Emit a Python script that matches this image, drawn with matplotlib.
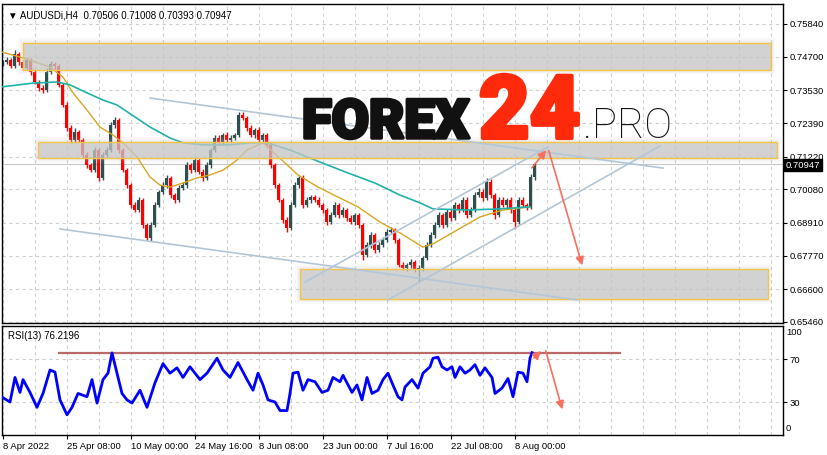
import numpy as np
import matplotlib
matplotlib.use("Agg")
import matplotlib.pyplot as plt
import matplotlib.patheffects as pe
from matplotlib.patches import Rectangle

# AUDUSD H4, one candle for every 4 bars
closes = [0.7452, 0.7459, 0.7438, 0.7479, 0.7452, 0.7431, 0.7459, 0.7417, 0.7382, 0.7361,
          0.7354, 0.7417, 0.7445, 0.7438, 0.7372, 0.7302, 0.7222, 0.7180, 0.7208, 0.7180,
          0.7128, 0.7093, 0.7075, 0.7145, 0.7048, 0.7128, 0.7145, 0.7232, 0.7250, 0.7145,
          0.7075, 0.7023, 0.6954, 0.6936, 0.6971, 0.6884, 0.6839, 0.6884, 0.6954, 0.6999,
          0.7023, 0.7048, 0.6988, 0.6971, 0.7013, 0.7023, 0.7093, 0.7075, 0.7110, 0.7069,
          0.7048, 0.7093, 0.7145, 0.7187, 0.7173, 0.7197, 0.7180, 0.7187, 0.7197, 0.7267,
          0.7257, 0.7222, 0.7197, 0.7215, 0.7180, 0.7197, 0.7163, 0.7093, 0.7023, 0.6971,
          0.6901, 0.6873, 0.6954, 0.7023, 0.7048, 0.6954, 0.6971, 0.6981, 0.6971, 0.6954,
          0.6936, 0.6894, 0.6919, 0.6954, 0.6919, 0.6936, 0.6908, 0.6894, 0.6919, 0.6884,
          0.6779, 0.6814, 0.6849, 0.6797, 0.6814, 0.6832, 0.6860, 0.6866, 0.6832, 0.6745,
          0.6734, 0.6745, 0.6755, 0.6727, 0.6734, 0.6769, 0.6814, 0.6849, 0.6884, 0.6919,
          0.6884, 0.6929, 0.6908, 0.6954, 0.6936, 0.6971, 0.6919, 0.6936, 0.6988, 0.6999,
          0.6978, 0.7034, 0.6988, 0.6919, 0.6971, 0.6954, 0.6971, 0.6936, 0.6894, 0.6971,
          0.6954, 0.6947, 0.70506, 0.70947]
first_open = 0.7445
# wicks in pips above / below the body
up_wick = [8, 10, 6, 14, 9, 7, 10, 6, 8, 7,
           9, 12, 10, 8, 6, 7, 9, 10, 12, 8,
           7, 9, 8, 11, 7, 10, 9, 12, 10, 6,
           7, 8, 6, 9, 10, 7, 8, 9, 11, 8,
           10, 9, 7, 8, 9, 12, 10, 8, 11, 7,
           9, 10, 8, 9, 11, 8, 10, 9, 7, 10,
           9, 8, 10, 7, 9, 8, 7, 9, 6, 8,
           7, 9, 10, 12, 8, 9, 10, 8, 7, 9,
           8, 7, 10, 9, 8, 10, 7, 9, 8, 7,
           8, 10, 9, 7, 9, 10, 11, 12, 8, 7,
           9, 8, 10, 7, 9, 8, 9, 10, 9, 11,
           8, 10, 9, 11, 8, 10, 9, 10, 11, 12,
           9, 12, 10, 7, 9, 10, 8, 9, 8, 10,
           9, 8, 10, 6]
down_wick = [7, 9, 8, 6, 10, 8, 7, 9, 8, 10,
             9, 7, 8, 10, 9, 8, 10, 9, 7, 8,
             9, 10, 8, 7, 12, 9, 8, 7, 9, 10,
             8, 9, 10, 8, 7, 9, 7, 10, 8, 9,
             8, 10, 9, 12, 8, 7, 9, 10, 8, 9,
             10, 8, 9, 7, 9, 10, 8, 9, 8, 7,
             9, 10, 8, 9, 7, 10, 8, 9, 10, 8,
             9, 14, 8, 7, 9, 10, 8, 9, 8, 7,
             9, 10, 8, 9, 10, 8, 9, 8, 10, 9,
             17, 8, 9, 10, 8, 7, 9, 8, 10, 9,
             8, 9, 10, 8, 42, 9, 8, 7, 9, 8,
             10, 8, 9, 7, 9, 8, 12, 9, 8, 7,
             9, 8, 10, 14, 9, 8, 10, 9, 21, 8,
             9, 10, 8, 11]

ma_fast_bars = [-1, 20, 47, 60, 70, 84, 97, 110, 120, 134, 147, 157, 167, 180, 194, 207, 220,
                234, 244, 260, 282, 295, 315, 335, 355, 377, 397, 420, 430, 454, 477, 500, 527]
ma_fast = [0.7486, 0.7466, 0.7434, 0.7399, 0.7344, 0.7284, 0.7225, 0.7197, 0.7170, 0.7121,
           0.7051, 0.7023, 0.7016, 0.7030, 0.7048, 0.7058, 0.7075, 0.7110, 0.7145, 0.7170,
           0.7100, 0.7058, 0.7016, 0.6981, 0.6947, 0.6894, 0.6856, 0.6807, 0.6818, 0.6866,
           0.6912, 0.6936, 0.6947]
ma_slow_bars = [-1, 30, 54, 67, 84, 100, 114, 132, 147, 167, 180, 200, 227, 247, 264, 287,
                312, 345, 372, 397, 417, 430, 464, 497, 527]
ma_slow = [0.7365, 0.7378, 0.7382, 0.7372, 0.7344, 0.7319, 0.7302, 0.7260, 0.7225, 0.7187,
           0.7170, 0.7163, 0.7163, 0.7170, 0.7170, 0.7145, 0.7110, 0.7065, 0.7030, 0.6988,
           0.6961, 0.6940, 0.6936, 0.6940, 0.6947]

rsi_bars = [0, 7, 12, 17, 20, 27, 34, 40, 47, 52, 57, 64, 69, 75, 84, 89, 94, 100, 105, 109,
            114, 119, 124, 129, 137, 144, 152, 160, 167, 174, 180, 187, 197, 204, 214, 220,
            227, 235, 244, 250, 255, 260, 265, 272, 277, 284, 287, 290, 295, 300, 305, 312,
            319, 325, 330, 337, 340, 349, 354, 359, 364, 369, 375, 380, 385, 389, 395, 399,
            402, 409, 415, 420, 427, 430, 435, 439, 444, 449, 452, 457, 462, 467, 472, 477,
            482, 489, 492, 499, 505, 510, 515, 520, 524, 527, 529]
rsi = [34, 30, 53, 39, 51, 39, 25, 38, 60, 58, 32, 18, 25, 38, 35, 51, 29, 51, 57, 76,
       57, 38, 32, 29, 41, 25, 48, 66, 57, 62, 53, 63, 51, 57, 71, 60, 53, 67, 51, 41,
       57, 46, 32, 30, 22, 22, 38, 57, 58, 41, 51, 49, 39, 41, 53, 49, 55, 39, 46, 32,
       53, 38, 41, 51, 57, 48, 35, 32, 44, 51, 43, 57, 63, 71, 72, 63, 60, 63, 53, 63,
       57, 60, 65, 55, 62, 53, 38, 43, 52, 35, 58, 57, 49, 71, 76.2196]
rsi_last = 76.2196
rsi_level = 76.2

price_ticks = [0.75840, 0.74700, 0.73530, 0.72390, 0.71220, 0.70080, 0.68910, 0.67770, 0.66600, 0.65460]
date_bars = [0, 64, 128, 192, 256, 320, 384, 448, 512]
date_labels = ["8 Apr 2022", "25 Apr 08:00", "10 May 00:00", "24 May 16:00", "8 Jun 08:00",
               "23 Jun 00:00", "7 Jul 16:00", "22 Jul 08:00", "8 Aug 00:00"]

# drawn objects: (bar0, bar1, price_low, price_high)
zones = [(20, 768, 0.7424, 0.7518), (35, 774, 0.7117, 0.7173), (297, 765, 0.6626, 0.6731)]
channel_lines = [((147, 0.7326), (660, 0.7082)), ((57, 0.6870), (574, 0.6623)),
                 ((302, 0.6685), (545, 0.7156)), ((385, 0.6623), (657, 0.7159))]
price_arrows = [((527, 0.7075), (545, 0.7152)), ((545, 0.7152), (580, 0.6734))]
rsi_arrows = [((529, 69.4), (540, 79.7)), ((542, 80.6), (560, 20.6))]
last_price = 0.70947

plt.rcParams['font.family'] = ['Liberation Sans', 'DejaVu Sans']

opens = [first_open] + closes[:-1]
highs = [max(o, c) + u * 0.0001 for o, c, u in zip(opens, closes, up_wick)]
lows = [min(o, c) - d * 0.0001 for o, c, d in zip(opens, closes, down_wick)]
bars = np.arange(len(closes)) * 4

W, H = 828, 455
fig = plt.figure(figsize=(W / 100, H / 100), dpi=100)
ax = fig.add_axes([2 / W, 1 - 323 / H, 781 / W, 319 / H])
ax2 = fig.add_axes([2 / W, 1 - 435 / H, 781 / W, 109 / H])

grid_kw = dict(color='#cfcfcf', lw=0.8, ls=(0, (3, 3)), zorder=0)
for a in (ax, ax2):
    a.set_xlim(-1, 780)
    for gx in range(0, 780, 32):
        a.axvline(gx, **grid_kw)
    for s in a.spines.values():
        s.set_color('black')
        s.set_linewidth(1)

ax.set_ylim(0.65425, 0.76536)
for p in price_ticks:
    ax.axhline(p, **grid_kw)

# candles
for b, o, c, hi, lo in zip(bars, opens, closes, highs, lows):
    col = '#2f4f4f' if c >= o else '#ff0000'
    ax.vlines(b, lo, hi, color=col, lw=1, zorder=2)
    ax.bar(b, max(abs(c - o), 0.0002), bottom=min(o, c), width=3.0, color=col, lw=0, zorder=2)

ax.plot(ma_fast_bars, ma_fast, color='#daa520', lw=1, zorder=3)
ax.plot(ma_slow_bars, ma_slow, color='#20b2aa', lw=1.2, zorder=3)
ax.axhline(last_price, color='#c8c8c8', lw=0.8, zorder=1)

for b0, b1, lo, hi in zones:
    for k in range(3):
        d = (k + 1) * 1.5
        ax.add_patch(Rectangle((b0 - d, lo - d * 0.00035), b1 - b0 + 2 * d, hi - lo + 2 * d * 0.00035,
                               facecolor='#bbbbbb', alpha=0.08, lw=0, zorder=4))
    ax.add_patch(Rectangle((b0, lo), b1 - b0, hi - lo, facecolor='#c6c6c6', alpha=0.7,
                           edgecolor='none', zorder=4))
    ax.add_patch(Rectangle((b0, lo), b1 - b0, hi - lo, facecolor='none',
                           edgecolor='#f2c44a', lw=1, zorder=5))

for (x0, y0), (x1, y1) in channel_lines:
    ax.plot([x0, x1], [y0, y1], color='#b4c6d6', lw=1.2, zorder=5)

for (x0, y0), (x1, y1) in price_arrows:
    ax.annotate('', xy=(x1, y1), xytext=(x0, y0),
                arrowprops=dict(arrowstyle='-|>', color='#fa6e5e', lw=1.2, mutation_scale=12), zorder=6)

ax.yaxis.tick_right()
ax.set_yticks(price_ticks)
ax.set_yticklabels([f"{p:.5f}" for p in price_ticks], fontsize=6.8)
ax.tick_params(axis='y', length=3, width=0.8, pad=2, direction='out')
ax.set_xticks([])

ax.text(6 / 781, 1 - 7 / 319, "\u25bc AUDUSDi,H4  0.70506 0.71008 0.70393 0.70947",
        transform=ax.transAxes, fontsize=7, va='top', ha='left')

# logo
fig.text(302 / W, 1 - 138 / H, "FOREX", fontsize=39, fontweight='black', family='Roboto',
         color='#111111', va='baseline', ha='left',
         path_effects=[pe.withStroke(linewidth=2.5, foreground='#111111')])
fig.text(479 / W, 1 - 138 / H, "24", fontsize=63, fontweight='black', family='Roboto',
         color='#ff2a0c', va='baseline', ha='left',
         path_effects=[pe.withStroke(linewidth=3, foreground='#ff2a0c')])
fig.text(583 / W, 1 - 138 / H, ".PRO", fontsize=30, fontweight='light', family='Roboto',
         color='#111111', va='baseline', ha='left')

fig.text(786 / W, 1 - 165 / H, f"{last_price:.5f}", fontsize=6.8, color='white', va='center', ha='left',
         bbox=dict(facecolor='black', edgecolor='black', pad=1.2), zorder=10)

# RSI panel
ax2.set_ylim(-0.9, 101.2)
for lvl in (70, 30):
    ax2.axhline(lvl, **grid_kw)
ax2.plot(rsi_bars, rsi, color='#0000ff', lw=2, zorder=3)
ax2.plot([56, 617], [rsi_level, rsi_level], color='#b45a5a', lw=1.6, zorder=2, alpha=0.9)
for (x0, y0), (x1, y1) in rsi_arrows:
    ax2.annotate('', xy=(x1, y1), xytext=(x0, y0),
                 arrowprops=dict(arrowstyle='-|>', color='#fa6e5e', lw=1.2, mutation_scale=12), zorder=6)
ax2.yaxis.tick_right()
ax2.set_yticks([70, 30])
ax2.set_yticklabels(["70", "30"], fontsize=6.8)
ax2.tick_params(axis='y', length=3, width=0.8, pad=2)
ax2.text(1.004, 95, "100", transform=ax2.get_yaxis_transform(), fontsize=6.8, va='center')
ax2.text(1.004, 5, "0", transform=ax2.get_yaxis_transform(), fontsize=6.8, va='center')
ax2.text(6 / 781, 1 - 10 / 109, f"RSI(13) {rsi_last:.4f}", transform=ax2.transAxes, fontsize=7,
         va='center', ha='left')

ax2.set_xticks(date_bars)
ax2.set_xticklabels(date_labels, fontsize=6.8, ha='left')
ax2.tick_params(axis='x', length=3, width=0.8, pad=2)

fig.savefig("out.png", dpi=100)
